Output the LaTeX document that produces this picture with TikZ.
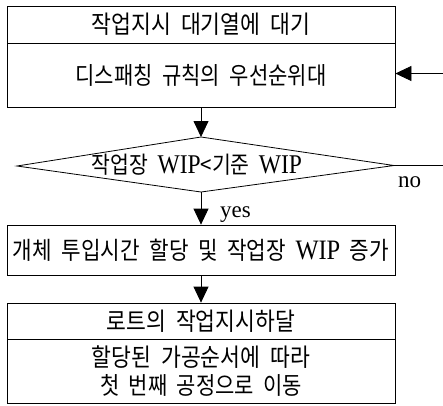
\documentclass[tikz,border=0pt]{standalone}
\usepackage{graphicx}
\usepackage{fontspec}
\setmainfont{Liberation Serif}
\newfontfamily\kr{Noto Sans CJK KR}
\usetikzlibrary{arrows.meta}
\newcommand{\en}[1]{{\rmfamily\fontsize{23}{28}\selectfont #1}}
\newcommand{\fitw}[2]{\scalebox{1}[1.15]{\resizebox{#1}{!}{#2}}}
\tikzset{
  box/.style={draw, line width=0.8pt, minimum width=388pt, inner sep=0pt, align=center,
    font={\kr\fontsize{20}{28}\selectfont\spaceskip=0.45em\relax}},
  arr/.style={line width=0.8pt, -{Triangle[length=16pt,width=15pt]}},
  lbl/.style={font={\rmfamily\fontsize{23}{28}\selectfont}, inner sep=0pt}
}
\begin{document}
\begin{tikzpicture}[x=1pt,y=-1pt]
\useasboundingbox (0,0) rectangle (443,405);
\node[box, minimum height=37pt] (t1) at (201,24.5) {\fitw{218pt}{작업지시 대기열에 대기}};
\node[box, minimum height=64pt] (t2) at (201,75) {\fitw{251pt}{디스패칭 규칙의 우선순위대}};
\coordinate (dT) at (201,137);
\coordinate (dB) at (201,192);
\coordinate (dL) at (17,166);
\coordinate (dR) at (394,165.5);
\draw[line width=0.8pt] (dL) -- (dT) -- (dR) -- (dB) -- cycle;
\node[inner sep=0pt, font={\kr\fontsize{20}{28}\selectfont\spaceskip=0.45em\relax}] (dtext) at (197,164.5) {\fitw{210pt}{작업장 \en{WIP}<기준 \en{WIP}}};
\node[box, minimum height=50pt] (t3) at (201,250) {\fitw{376pt}{개체 투입시간 할당 및 작업장 \en{WIP} 증가}};
\node[box, minimum height=36pt] (t4a) at (201,321) {\fitw{188pt}{로트의 작업지시하달}};
\node[box, minimum height=64pt] (t4b) at (201,371) {\fitw{218pt}{할당된 가공순서에 따라}\\\fitw{202pt}{첫 번째 공정으로 이동}};
\coordinate (fb) at (443,73.5);
\coordinate (fn) at (443,165.5);
\draw[arr] (t2.south) -- (dT);
\draw[arr] (dB) -- (t3.north);
\draw[arr] (t3.south) -- (t4a.north);
\draw[arr] (fb) -- (fb -| t2.east);
\draw[line width=0.8pt] (dR) -- (fn);
\node[lbl, anchor=base west] (yes) at (220,217) {yes};
\node[lbl, anchor=base west] (no) at (398,187) {no};
\end{tikzpicture}
\end{document}
